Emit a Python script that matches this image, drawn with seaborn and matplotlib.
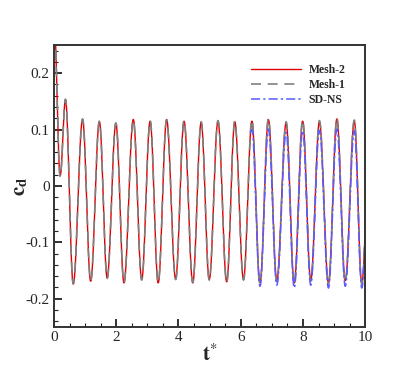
import numpy as np
import pandas as pd
import matplotlib
matplotlib.use("Agg")
import matplotlib.pyplot as plt
from matplotlib.ticker import MultipleLocator, FormatStrFormatter
import seaborn as sns

# extrema (time, value); curves pass smoothly through them
mesh2_t = [0.0, 0.20, 0.37, 0.62, 0.92, 1.18, 1.46, 1.71, 1.99, 2.25, 2.55, 2.82,
           3.09, 3.35, 3.62, 3.91, 4.18, 4.46, 4.73, 4.99, 5.27, 5.55, 5.81, 6.09,
           6.36, 6.62, 6.89, 7.16, 7.46, 7.72, 7.99, 8.25, 8.53, 8.82, 9.09, 9.36,
           9.65, 9.89, 10.17]
mesh2_c = [0.30, 0.018, 0.153, -0.174, 0.118, -0.169, 0.114, -0.163, 0.111, -0.172,
           0.118, -0.166, 0.115, -0.172, 0.118, -0.165, 0.115, -0.172, 0.113, -0.166,
           0.115, -0.170, 0.114, -0.166, 0.115, -0.172, 0.118, -0.168, 0.112, -0.172,
           0.115, -0.167, 0.114, -0.172, 0.119, -0.168, 0.115, -0.172, 0.115]

mesh1_t = mesh2_t
mesh1_c = [0.30, 0.017, 0.154, -0.173, 0.119, -0.168, 0.115, -0.164, 0.112, -0.171,
           0.117, -0.167, 0.116, -0.171, 0.117, -0.166, 0.116, -0.171, 0.114, -0.167,
           0.116, -0.171, 0.115, -0.167, 0.117, -0.174, 0.120, -0.170, 0.114, -0.174,
           0.117, -0.169, 0.116, -0.174, 0.120, -0.170, 0.117, -0.174, 0.116]

sdns_t = [6.30, 6.36, 6.62, 6.89, 7.16, 7.46, 7.72, 7.99, 8.25, 8.53, 8.82, 9.09,
          9.36, 9.65, 9.89, 10.17]
sdns_c = [0.095, 0.100, -0.178, 0.101, -0.176, 0.095, -0.181, 0.098, -0.176, 0.099,
          -0.181, 0.101, -0.178, 0.098, -0.181, 0.100]

labels = ["Mesh-2", "Mesh-1", "SD-NS"]


def smooth(ts, cs, n=24):
    xs, ys = [], []
    for i in range(len(ts) - 1):
        s = np.linspace(0, 1, n, endpoint=False)
        w = (1 - np.cos(np.pi * s)) / 2
        xs.append(ts[i] + (ts[i + 1] - ts[i]) * s)
        ys.append(cs[i] + (cs[i + 1] - cs[i]) * w)
    xs.append([ts[-1]])
    ys.append([cs[-1]])
    return np.concatenate(xs), np.concatenate(ys)


sns.set_style("ticks")
plt.rcParams["font.family"] = ["Liberation Serif", "DejaVu Serif"]
plt.rcParams["mathtext.fontset"] = "stix"
plt.rcParams["axes.unicode_minus"] = False

fig = plt.figure(figsize=(4.15, 3.69), dpi=100)
ax = fig.add_axes([0.130, 0.114, 0.750, 0.764])

styles = [dict(color="#e00000", lw=1.0, linestyle="-"),
          dict(color="#808080", lw=1.2, linestyle=(0, (6, 4))),
          dict(color="#5a5aff", lw=1.1, linestyle=(0, (6, 2, 1.5, 2)))]
series = [(mesh2_t, mesh2_c), (mesh1_t, mesh1_c), (sdns_t, sdns_c)]

for (ts, cs), lab, st in zip(series, labels, styles):
    x, y = smooth(ts, cs)
    df = pd.DataFrame({"t": x, "c": y})
    sns.lineplot(data=df, x="t", y="c", ax=ax, label=lab, sort=False,
                 estimator=None, **st)

ax.set_xlim(0, 10)
ax.set_ylim(-0.25, 0.25)
ax.xaxis.set_major_locator(MultipleLocator(2))
ax.xaxis.set_minor_locator(MultipleLocator(0.5))
ax.yaxis.set_major_locator(MultipleLocator(0.1))
ax.yaxis.set_minor_locator(MultipleLocator(0.02))
ax.yaxis.set_major_formatter(FormatStrFormatter("%g"))
ax.xaxis.set_major_formatter(FormatStrFormatter("%g"))
ax.tick_params(which="major", direction="in", length=6, width=1.3, labelsize=11,
               pad=3, color="#222222")
ax.tick_params(which="minor", direction="in", length=3, width=0.8, color="#222222")
for sp in ax.spines.values():
    sp.set_linewidth(1.4)
    sp.set_color("#333333")

ax.set_xlabel(r"$\mathbf{t}^{*}$", fontsize=15, labelpad=0)
ax.set_ylabel(r"$\mathbf{c}_{\mathbf{d}}$", fontsize=15)
ax.yaxis.set_label_coords(-0.075, 0.5)

leg = ax.legend(loc="upper right", bbox_to_anchor=(0.97, 0.97), frameon=False,
                handlelength=4.3, handletextpad=0.6, labelspacing=0.25,
                prop={"family": "Liberation Serif", "weight": "bold", "size": 8.5})

fig.savefig("out.png", dpi=100)
